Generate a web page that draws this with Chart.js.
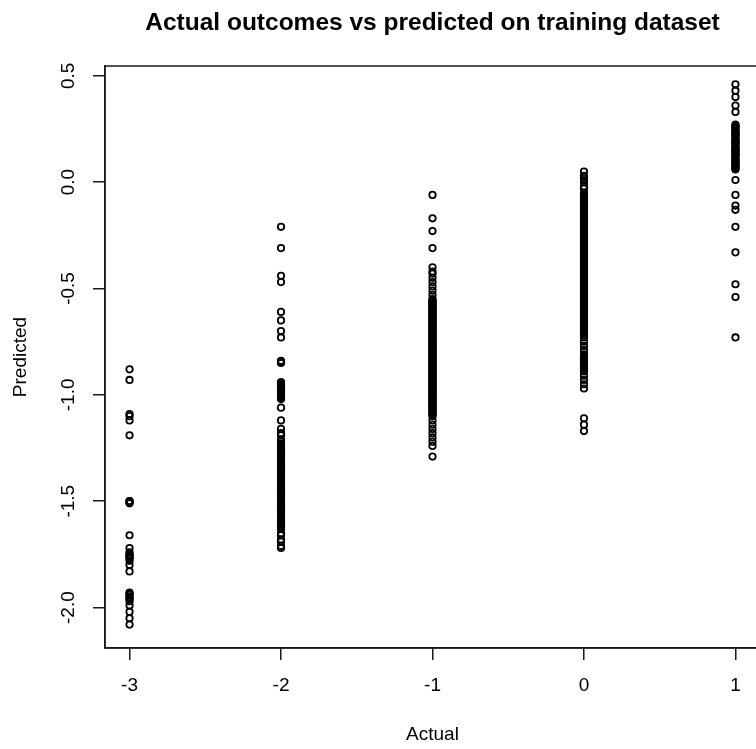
<!DOCTYPE html>
<html>
<head>
<meta charset="utf-8">
<script src="https://cdn.jsdelivr.net/npm/chart.js@4"></script>
<style>
html,body{margin:0;padding:0;background:#fff;overflow:hidden;width:756px;height:749px;}
#wrap{position:absolute;left:0;top:0;width:780px;height:749px;}
</style>
</head>
<body>
<div id="wrap"><canvas id="c" width="780" height="749"></canvas></div>
<script>
const chartTitle = "Actual outcomes vs predicted on training dataset";
const xAxisTitle = "Actual";
const yAxisTitle = "Predicted";
const categories = [-3, -2, -1, 0, 1];
const xTickLabels = ["-3", "-2", "-1", "0", "1"];
const yTickValues = [-2.0, -1.5, -1.0, -0.5, 0.0, 0.5];
const yTickLabels = ["-2.0", "-1.5", "-1.0", "-0.5", "0.0", "0.5"];

const predActualM3 = [-0.88,-0.93,-1.09,-1.10,-1.12,-1.19,-1.50,-1.50,-1.505,-1.51,-1.66,-1.72,-1.74,-1.75,-1.755,-1.76,-1.765,-1.77,-1.78,-1.80,-1.83,
  -1.93,-1.935,-1.94,-1.95,-1.955,-1.96,-1.97,-1.99,-2.02,-2.05,-2.08];
const predActualM2 = [-0.21,-0.31,-0.44,-0.47,-0.61,-0.65,-0.70,-0.73,-0.84,-0.845,-0.85,
  -0.94,-0.945,-0.95,-0.955,-0.96,-0.965,-0.97,-0.975,-0.98,-0.985,-0.99,-0.995,-1.00,-1.005,-1.01,-1.015,-1.02,
  -1.06,-1.12,-1.16,-1.18,-1.19,-1.21,-1.22,
  -1.230,-1.235,-1.240,-1.245,-1.250,-1.255,-1.260,-1.265,-1.270,-1.275,-1.280,-1.285,-1.290,-1.295,
  -1.300,-1.305,-1.310,-1.315,-1.320,-1.325,-1.330,-1.335,-1.340,-1.345,-1.350,-1.355,-1.360,-1.365,-1.370,-1.375,
  -1.380,-1.385,-1.390,-1.395,-1.400,-1.405,-1.410,-1.415,-1.420,-1.425,-1.430,-1.435,-1.440,-1.445,-1.450,-1.455,
  -1.460,-1.465,-1.470,-1.475,-1.480,-1.485,-1.490,-1.495,-1.500,-1.505,-1.510,-1.515,-1.520,-1.525,-1.530,-1.535,
  -1.540,-1.545,-1.550,-1.555,-1.560,-1.565,-1.570,-1.575,-1.580,-1.585,-1.590,-1.595,-1.600,-1.605,-1.610,-1.615,
  -1.620,-1.625,-1.630,-1.65,-1.66,-1.68,-1.69,-1.71,-1.72];
const predActualM1 = [-0.06,-0.17,-0.23,-0.31,-0.40,-0.42,-0.43,-0.45,-0.47,-0.49,-0.51,-0.53,
  -0.550,-0.555,-0.560,-0.565,-0.570,-0.575,-0.580,-0.585,-0.590,-0.595,
  -0.600,-0.605,-0.610,-0.615,-0.620,-0.625,-0.630,-0.635,-0.640,-0.645,
  -0.650,-0.655,-0.660,-0.665,-0.670,-0.675,-0.680,-0.685,-0.690,-0.695,
  -0.700,-0.705,-0.710,-0.715,-0.720,-0.725,-0.730,-0.735,-0.740,-0.745,
  -0.750,-0.755,-0.760,-0.765,-0.770,-0.775,-0.780,-0.785,-0.790,-0.795,
  -0.800,-0.805,-0.810,-0.815,-0.820,-0.825,-0.830,-0.835,-0.840,-0.845,
  -0.850,-0.855,-0.860,-0.865,-0.870,-0.875,-0.880,-0.885,-0.890,-0.895,
  -0.900,-0.905,-0.910,-0.915,-0.920,-0.925,-0.930,-0.935,-0.940,-0.945,
  -0.950,-0.955,-0.960,-0.965,-0.970,-0.975,-0.980,-0.985,-0.990,-0.995,
  -1.000,-1.005,-1.010,-1.015,-1.020,-1.025,-1.030,-1.035,-1.040,-1.045,
  -1.050,-1.055,-1.060,-1.065,-1.070,-1.075,-1.080,-1.085,-1.090,-1.095,-1.100,
  -1.12,-1.14,-1.16,-1.18,-1.20,-1.22,-1.24,-1.29];
const predActual0 = [0.05,0.03,0.02,0.01,0.00,-0.02,-0.03,-0.05,
  -0.060,-0.065,-0.070,-0.075,-0.080,-0.085,-0.090,-0.095,-0.100,-0.105,-0.110,-0.115,-0.120,-0.125,-0.130,-0.135,
  -0.140,-0.145,-0.150,-0.155,-0.160,-0.165,-0.170,-0.175,-0.180,-0.185,-0.190,-0.195,-0.200,-0.205,-0.210,-0.215,
  -0.220,-0.225,-0.230,-0.235,-0.240,-0.245,-0.250,-0.255,-0.260,-0.265,-0.270,-0.275,-0.280,-0.285,-0.290,-0.295,
  -0.300,-0.305,-0.310,-0.315,-0.320,-0.325,-0.330,-0.335,-0.340,-0.345,-0.350,-0.355,-0.360,-0.365,-0.370,-0.375,
  -0.380,-0.385,-0.390,-0.395,-0.400,-0.405,-0.410,-0.415,-0.420,-0.425,-0.430,-0.435,-0.440,-0.445,-0.450,-0.455,
  -0.460,-0.465,-0.470,-0.475,-0.480,-0.485,-0.490,-0.495,-0.500,-0.505,-0.510,-0.515,-0.520,-0.525,-0.530,-0.535,
  -0.540,-0.545,-0.550,-0.555,-0.560,-0.565,-0.570,-0.575,-0.580,-0.585,-0.590,-0.595,-0.600,-0.605,-0.610,-0.615,
  -0.620,-0.625,-0.630,-0.635,-0.640,-0.645,-0.650,-0.655,-0.660,-0.665,-0.670,-0.675,-0.680,-0.685,-0.690,-0.695,
  -0.700,-0.705,-0.710,-0.72,-0.73,-0.75,-0.77,-0.79,
  -0.810,-0.815,-0.820,-0.825,-0.830,-0.835,-0.840,-0.845,-0.850,-0.855,-0.860,-0.865,-0.870,-0.875,-0.880,-0.885,-0.890,
  -0.91,-0.93,-0.95,-0.97,-1.11,-1.14,-1.17];
const predActual1 = [0.46,0.43,0.40,0.36,0.33,
  0.270,0.265,0.260,0.255,0.250,0.240,0.235,0.230,0.225,0.220,0.215,0.205,0.200,0.195,0.190,0.185,0.180,0.175,0.165,
  0.160,0.155,0.150,0.145,0.140,0.135,0.130,0.125,0.120,0.110,0.105,0.100,0.095,0.090,0.085,0.080,0.075,0.070,0.065,0.060,
  0.01,-0.06,-0.11,-0.13,-0.21,-0.33,-0.48,-0.54,-0.73];

const predictedByCategory = [predActualM3, predActualM2, predActualM1, predActual0, predActual1];

const points = [];
categories.forEach((c, i) => predictedByCategory[i].forEach(v => points.push({x: c, y: v})));

const FONT = "'Liberation Sans', Arial, sans-serif";

const frameAndTitle = {
  id: 'frameAndTitle',
  afterDatasetsDraw(chart) {
    const {ctx, chartArea: a} = chart;
    ctx.save();
    ctx.strokeStyle = '#1a1a1a';
    ctx.lineWidth = 1.5;
    ctx.strokeRect(a.left, a.top, a.right - a.left, a.bottom - a.top);
    ctx.restore();
  },
  afterDraw(chart) {
    const {ctx, chartArea: a} = chart;
    ctx.save();
    ctx.fillStyle = '#000';
    ctx.font = "bold 24.5px " + FONT;
    ctx.textAlign = 'center';
    ctx.textBaseline = 'middle';
    ctx.fillText(chartTitle, (a.left + a.right) / 2, 23);
    ctx.restore();
  }
};

new Chart(document.getElementById('c'), {
  type: 'scatter',
  data: {
    datasets: [{
      data: points,
      pointStyle: 'circle',
      pointRadius: 3.2,
      pointHoverRadius: 3.2,
      borderColor: '#000',
      backgroundColor: 'rgba(0,0,0,0)',
      pointBorderWidth: 1.8,
      borderWidth: 1.8
    }]
  },
  options: {
    responsive: false,
    animation: false,
    layout: {padding: {left: 0, top: 66, right: 20, bottom: 0}},
    plugins: {legend: {display: false}, tooltip: {enabled: false}, title: {display: false}},
    scales: {
      x: {
        type: 'linear',
        min: -3.162,
        max: 1.162,
        afterFit: s => { s.height = 101; },
        afterBuildTicks: s => { s.ticks = categories.map(v => ({value: v})); },
        grid: {display: true, drawOnChartArea: false, drawTicks: true, tickLength: 12, color: '#1a1a1a', lineWidth: 1.5},
        border: {display: true, color: '#1a1a1a', width: 1.5},
        ticks: {
          color: '#000', font: {family: FONT, size: 19}, padding: 14, maxRotation: 0, minRotation: 0,
          callback: (v) => xTickLabels[categories.indexOf(v)]
        },
        title: {display: true, text: xAxisTitle, color: '#000', font: {family: FONT, size: 19}, padding: {top: 3, bottom: 3}}
      },
      y: {
        type: 'linear',
        min: -2.19,
        max: 0.546,
        afterFit: s => { s.width = 105; },
        afterBuildTicks: s => { s.ticks = yTickValues.map(v => ({value: v})); },
        grid: {display: true, drawOnChartArea: false, drawTicks: true, tickLength: 12, color: '#1a1a1a', lineWidth: 1.5},
        border: {display: true, color: '#1a1a1a', width: 1.5},
        ticks: {
          color: '#000', font: {family: FONT, size: 19}, padding: 8, minRotation: 90, maxRotation: 90, crossAlign: 'center',
          callback: (v) => yTickLabels[yTickValues.indexOf(v)]
        },
        title: {display: true, text: yAxisTitle, color: '#000', font: {family: FONT, size: 19}, padding: {top: 9, bottom: 4}}
      }
    }
  },
  plugins: [frameAndTitle]
});
</script>
</body>
</html>
